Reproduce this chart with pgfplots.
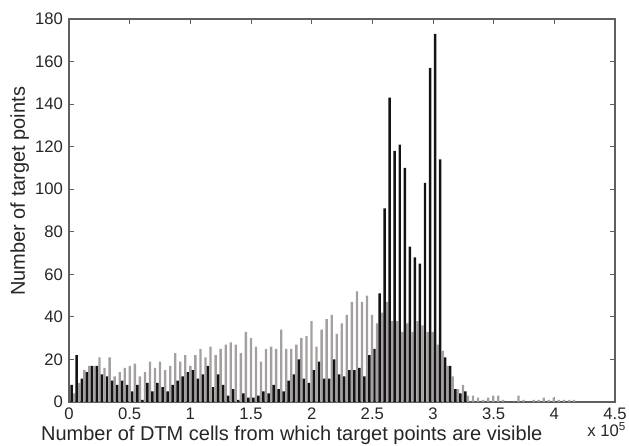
\documentclass[border=0pt]{standalone}
\usepackage{fontspec}
\setmainfont{Liberation Sans}
\usepackage{pgfplots}
\pgfplotsset{compat=1.18}
\usepackage{pgfplotstable}
\usetikzlibrary{calc}
\definecolor{graybar}{RGB}{165,160,160}
\definecolor{blackbar}{RGB}{20,20,20}
\definecolor{axgray}{RGB}{95,95,95}

\pgfplotstableread{
x black gray
2200 8 4
6360 22 9
10520 11 15
14680 14 17
18840 17 17
23000 17 21
27160 13 16
31320 12 21
35480 10 12
39640 8 14
43800 10 16
47960 8 17
52120 5 18
56280 8 12
60440 1 14
64600 9 19
68760 5 16
72920 9 19
77080 7 15
81240 5 17
85400 8 23
89560 10 19
93720 12 22
97880 14 17
102040 15 22
106200 11 25
110360 13 21
114520 17 26
118680 7 22
122840 13 25
127000 8 27
131160 3 28
135320 6 27
139480 1 23
143640 4 33
147800 2 30
151960 2 26
156120 3 19
160280 5 25
164440 4 26
168600 8 25
172760 6 34
176920 5 25
181080 10 25
185240 13 27
189400 20 30
193560 11 31
197720 9 38
201880 15 26
206040 19 34
210200 11 39
214360 11 41
218520 20 32
222680 13 37
226840 12 41
231000 15 47
235160 15 52
239320 16 47
243480 12 50
247640 22 41
251800 25 37
255960 51 42
260120 91 47
264280 143 38
268440 118 38
272600 121 33
276760 110 37
280920 73 33
285080 68 38
289240 65 36
293400 103 33
297560 157 33
301720 173 27
305880 114 24
310040 21 17
314200 17 12
318360 6 6
322520 4 8
326680 5 3
330840 0 3
335000 0 2
339160 0 1
343320 0 2
347480 0 3
351640 0 3
355800 0 1
359960 0 0
364120 0 0
368280 0 3
372440 0 1
376600 0 0
380760 0 1
384920 0 1
389080 0 2
393240 0 1
397400 0 2
401560 0 1
405720 0 1
409880 0 1
414040 0 1
}\hist

\begin{document}
\begin{tikzpicture}
\useasboundingbox (-51.75pt,-33pt) rectangle (420pt,301.5pt);
\begin{axis}[
  at={(0,0)}, anchor=south west,
  scale only axis,
  width=409.5pt, height=287.25pt,
  xmin=0, xmax=450000, ymin=0, ymax=180,
  xtick={0,50000,100000,150000,200000,250000,300000,350000,400000,450000},
  xticklabels={0,0.5,1,1.5,2,2.5,3,3.5,4,4.5},
  scaled x ticks=false,
  ytick={0,20,40,60,80,100,120,140,160,180},
  tick align=inside,
  xtick pos=both, ytick pos=both,
  major tick length=3.5pt,
  axis line style={draw=axgray, line width=0.8pt},
  tick style={draw=axgray, line width=0.7pt},
  /pgf/number format/assume math mode=true,
  ticklabel style={font=\fontsize{12.5}{14}\selectfont, text=black!85},
  xticklabel style={yshift=-1pt},
  yticklabel style={xshift=-1pt},
  xlabel={Number of DTM cells from which target points are visible},
  ylabel={Number of target points},
  label style={font=\fontsize{15}{17}\selectfont, text=black!85},
  xlabel style={at={(rel axis cs:0.408,0)}, anchor=base, yshift=-29pt},
  ylabel style={at={($(rel axis cs:0,0.55)+(-37pt,0pt)$)}, anchor=center},
  clip=false,
]
\addplot[ybar, bar width=1.75pt, bar shift=1.95pt, fill=graybar, draw=none] table[x=x, y=gray] {\hist};
\addplot[ybar, bar width=1.85pt, bar shift=0pt, fill=blackbar, draw=none] table[x=x, y=black] {\hist};
\node[anchor=base west, font=\fontsize{12.5}{14}\selectfont, text=black!85] at (rel axis cs:0.941,0) [yshift=-26pt] {x 10\textsuperscript{5}};
\end{axis}
\end{tikzpicture}
\end{document}
